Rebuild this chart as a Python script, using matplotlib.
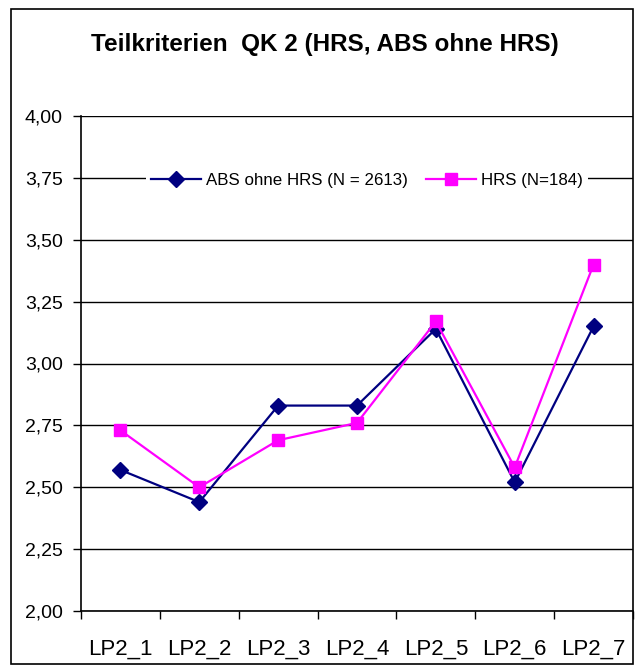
import matplotlib.pyplot as plt
from matplotlib.patches import Rectangle
from matplotlib.ticker import FuncFormatter

kategorien = ["LP2_1", "LP2_2", "LP2_3", "LP2_4", "LP2_5", "LP2_6", "LP2_7"]
abs_ohne_hrs = [2.57, 2.44, 2.83, 2.83, 3.14, 2.52, 3.15]
hrs = [2.73, 2.50, 2.69, 2.76, 3.17, 2.58, 3.40]

plt.rcParams['font.family'] = ['Liberation Sans', 'DejaVu Sans']

fig = plt.figure(figsize=(6.37, 6.68), dpi=100)
ax = fig.add_axes([81 / 637, 1 - 611 / 668, 552 / 637, 495 / 668])

# rahmen um die ganze grafik
fig.patches.append(Rectangle((11 / 637, 1 - 664 / 668), 622 / 637, 655 / 668,
                             transform=fig.transFigure, fill=False,
                             edgecolor="black", linewidth=1.2))

x = range(len(kategorien))
ax.plot(x, abs_ohne_hrs, color="#000080", marker="D", markersize=8,
        linewidth=1.6, label="ABS ohne HRS (N = 2613)", zorder=3)
ax.plot(x, hrs, color="#FF00FF", marker="s", markersize=8,
        linewidth=1.6, label="HRS (N=184)", zorder=3)

ax.set_xlim(-0.5, len(kategorien) - 0.5)
ax.set_ylim(2.0, 4.0)
ax.set_yticks([2.0, 2.25, 2.5, 2.75, 3.0, 3.25, 3.5, 3.75, 4.0])
ax.yaxis.set_major_formatter(FuncFormatter(lambda v, p: f"{v:.2f}".replace(".", ",")))
ax.set_xticks(list(x))
ax.set_xticklabels(kategorien)
ax.set_xticks([i + 0.5 for i in range(-1, len(kategorien))], minor=True)
ax.tick_params(axis="x", which="major", length=0, pad=20, labelsize=16)
ax.tick_params(axis="x", which="minor", length=6, width=1)
ax.tick_params(axis="y", length=6, width=1, labelsize=14, pad=7)

ax.grid(axis="y", color="black", linewidth=1)
ax.set_axisbelow(True)
ax.spines["top"].set_visible(False)
ax.spines["right"].set_visible(False)
ax.spines["left"].set_linewidth(1.2)
ax.spines["bottom"].set_linewidth(1.2)

leg = ax.legend(loc="center", bbox_to_anchor=(0.518, 0.869), ncol=2,
                frameon=True, fontsize=12.2, handlelength=2.95, handletextpad=0.3,
                columnspacing=1.1, borderpad=0.3, borderaxespad=0,
                fancybox=False)
leg.get_frame().set_edgecolor("none")
leg.get_frame().set_facecolor("white")
leg.get_frame().set_alpha(1)

fig.text(325 / 637, 1 - 44 / 668, "Teilkriterien  QK 2 (HRS, ABS ohne HRS)",
         ha="center", va="center", fontsize=17.5, fontweight="bold")

fig.savefig("out.png", dpi=100)
